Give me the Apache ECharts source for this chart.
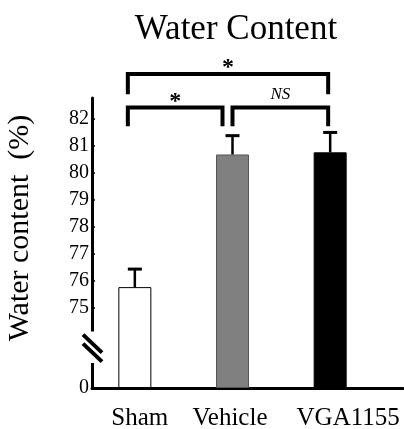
<!DOCTYPE html>
<html>
<head>
<meta charset="utf-8">
<style>html,body{margin:0;padding:0;background:#fff;}#c{width:404px;height:429px;}</style>
<script src="https://cdn.jsdelivr.net/npm/echarts@6/dist/echarts.min.js"></script>
</head>
<body>
<div id="c"></div>
<script>
// ---- data ----
const categories = ['Sham', 'Vehicle', 'VGA1155'];
const means = [75.75, 80.68, 80.76];
const errors = [0.67, 0.70, 0.74];
const yTickLabels = [0, 75, 76, 77, 78, 79, 80, 81, 82];
// significance brackets (category indices, y levels in %)
const bracketFrom = [0, 0, 1];
const bracketTo = [2, 1, 2];
const bracketLevel = [83.67, 82.43, 82.43];
const bracketLegEnd = [82.92, 81.73, 81.73];
const bracketText = ['*', '*', 'NS'];

// ---- axis break: values >= 75 are shifted down so 75 sits 3 units above 0 ----
const BREAK_SHIFT = 72;
const toAxis = v => (v === 0 ? 0 : v - BREAK_SHIFT);

// style constants
const FONT = 'Liberation Serif';
const barColors = ['#ffffff', '#808080', '#000000'];
const barBorders = ['#000000', '#555555', '#000000'];
const legDxFrom = [-7, -7, 0];
const legDxTo = [-2, -10, -2];
const labelNudge = [10, -5, 36];

const chart = echarts.init(document.getElementById('c'), null, {renderer: 'canvas'});

const GRID_TOP = 98, GRID_H = 290, Y_MAX = 10.78;

const catData = categories.map((c, i) => {
  const n = labelNudge[i];
  return {value: c, textStyle: {fontFamily: FONT, fontSize: 25, color: '#000',
    padding: n >= 0 ? [0, 0, 0, n] : [0, -n, 0, 0]}};
});

const option = {
  animation: false,
  backgroundColor: '#fff',
  title: {
    text: 'Water Content', left: 231, top: 7, textAlign: 'center',
    textStyle: {fontFamily: FONT, fontSize: 35, fontWeight: 'normal', color: '#000'}
  },
  grid: [
    {left: 92, right: 1, top: GRID_TOP, height: GRID_H, outerBoundsMode: 'none', containLabel: false},
    {left: 86, width: 293, top: GRID_TOP, height: GRID_H, outerBoundsMode: 'none', containLabel: false}
  ],
  xAxis: [
    {gridIndex: 0, type: 'value', min: 0, max: 1,
     axisLine: {show: true, onZero: false, lineStyle: {color: '#000', width: 3}},
     axisTick: {show: false}, axisLabel: {show: false}, splitLine: {show: false}},
    {gridIndex: 1, type: 'category', data: catData,
     axisLine: {show: false}, axisTick: {show: false}, splitLine: {show: false},
     axisLabel: {color: '#000', fontFamily: FONT, fontSize: 25, margin: 18, interval: 0}}
  ],
  yAxis: [
    {gridIndex: 0, type: 'value', min: 0, max: Y_MAX, interval: 1,
     axisLine: {show: true, lineStyle: {color: '#000', width: 3}},
     axisTick: {show: true, inside: true, length: 3, lineStyle: {color: '#000', width: 1.5}},
     splitLine: {show: false},
     axisLabel: {color: '#000', fontFamily: FONT, fontSize: 20, margin: 3, showMaxLabel: false,
       formatter: t => {
         const real = t === 0 ? 0 : Math.round(t + BREAK_SHIFT);
         return yTickLabels.includes(real) && (t === 0 || t >= 3) ? String(real) : '';
       }},
     name: 'Water content  (%)', nameLocation: 'middle', nameGap: 57,
     nameTextStyle: {color: '#000', fontFamily: FONT, fontSize: 30, padding: [0, 0, 0, 30]}},
    {gridIndex: 1, type: 'value', min: 0, max: Y_MAX, interval: 1, show: false}
  ],
  series: [
    {type: 'bar', xAxisIndex: 1, yAxisIndex: 1, barWidth: 33, z: 3,
     data: means.map((m, i) => ({value: toAxis(m),
       itemStyle: {color: barColors[i], borderColor: barBorders[i], borderWidth: 1}}))},
    {type: 'custom', xAxisIndex: 1, yAxisIndex: 1, z: 4, clip: false,
     data: means.map((m, i) => [i, toAxis(m), toAxis(m + errors[i])]),
     renderItem: (params, api) => {
       const base = api.coord([api.value(0), api.value(1)]);
       const top = api.coord([api.value(0), api.value(2)]);
       const cap = 7;
       return {type: 'group', children: [
         {type: 'line', shape: {x1: base[0], y1: base[1], x2: top[0], y2: top[1]},
          style: {stroke: '#000', lineWidth: 2.5}},
         {type: 'line', shape: {x1: top[0] - cap, y1: top[1], x2: top[0] + cap, y2: top[1]},
          style: {stroke: '#000', lineWidth: 3}}
       ]};
     }},
    {type: 'custom', xAxisIndex: 1, yAxisIndex: 1, z: 5, clip: false,
     data: bracketFrom.map((f, i) => [f, bracketTo[i], toAxis(bracketLevel[i]), toAxis(bracketLegEnd[i]), i]),
     renderItem: (params, api) => {
       const i = api.value(4);
       const a = api.coord([api.value(0), api.value(2)]);
       const b = api.coord([api.value(1), api.value(2)]);
       const legY = api.coord([api.value(0), api.value(3)])[1];
       const x1 = a[0] + legDxFrom[i], x2 = b[0] + legDxTo[i], y = a[1];
       const isNS = bracketText[i] === 'NS';
       return {type: 'group', children: [
         {type: 'polyline', shape: {points: [[x1, legY], [x1, y], [x2, y], [x2, legY]]},
          style: {stroke: '#000', lineWidth: 4, fill: null, lineJoin: 'miter', lineCap: 'butt'}},
         {type: 'text', x: (x1 + x2) / 2, y: y + (isNS ? -4 : 6),
          style: {text: bracketText[i], fill: '#000', align: 'center', verticalAlign: 'bottom',
            font: isNS ? 'italic 17px "Liberation Serif"' : 'bold 24px "Liberation Serif"'}}
       ]};
     }}
  ]
};
chart.setOption(option);

// axis-break marks on the y axis
const c = chart.convertToPixel({xAxisIndex: 0, yAxisIndex: 0}, [0, 1.5]);
const yTop = chart.convertToPixel({xAxisIndex: 0, yAxisIndex: 0}, [0, 2.1])[1];
const yBot = chart.convertToPixel({xAxisIndex: 0, yAxisIndex: 0}, [0, 0.93])[1];
chart.setOption({
  graphic: [
    {type: 'rect', z: 100, shape: {x: c[0] - 3, y: yTop, width: 8, height: yBot - yTop}, style: {fill: '#fff'}},
    {type: 'line', z: 101, shape: {x1: c[0] - 9, y1: c[1] - 13, x2: c[0] + 10, y2: c[1] + 5}, style: {stroke: '#000', lineWidth: 4}},
    {type: 'line', z: 101, shape: {x1: c[0] - 9, y1: c[1] - 4, x2: c[0] + 10, y2: c[1] + 14}, style: {stroke: '#000', lineWidth: 4}}
  ]
});
</script>
</body>
</html>
